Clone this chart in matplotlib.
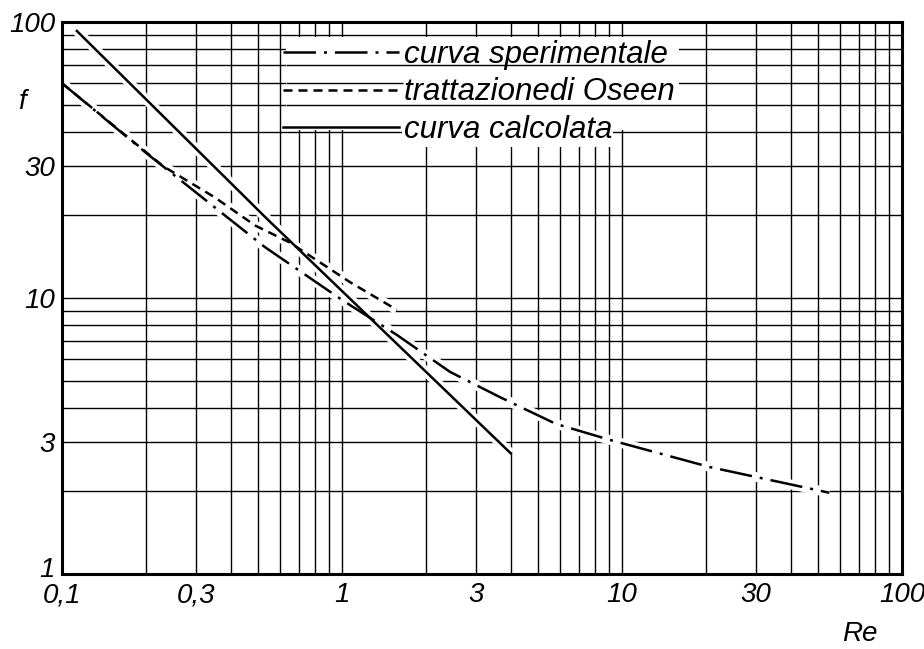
import numpy as np
import matplotlib.pyplot as plt
import matplotlib.transforms as mtransforms
from matplotlib.ticker import LogLocator, NullFormatter
from matplotlib.patches import Rectangle

plt.rcParams['font.family'] = ['Liberation Sans', 'DejaVu Sans']

# curve values (Re, f)
re_sper = [0.1, 0.2, 0.53, 1.0, 1.57, 2.43, 3.67, 5.8, 9.06, 20.6, 55]
f_sper = [60, 33.5, 15.3, 9.84, 7.35, 5.4, 4.37, 3.5, 3.06, 2.44, 1.97]

re_oseen = [0.1, 0.23, 0.35, 0.49, 0.65, 1.07, 1.57]
f_oseen = [60, 30, 23.2, 18.3, 15.9, 11.4, 9.06]

re_calc = [0.113, 0.544, 4.0]
f_calc = [92.8, 19.2, 2.74]

x_ticks = [0.1, 0.3, 1, 3, 10, 30, 100]
x_labels = ["0,1", "0,3", "1", "3", "10", "30", "100"]
y_ticks = [1, 3, 10, 30, 100]
y_labels = ["1", "3", "10", "30", "100"]

labels = ["curva sperimentale", "trattazionedi Oseen", "curva calcolata"]

fig = plt.figure(figsize=(9.24, 6.49), dpi=100)
ax = fig.add_axes([62 / 924, 75 / 649, 840 / 924, 552 / 649])
ax.set_xscale("log")
ax.set_yscale("log")
ax.set_xlim(0.1, 100)
ax.set_ylim(1, 100)

ax.set_xticks(x_ticks, x_labels)
ax.set_yticks(y_ticks, y_labels)
for axis in (ax.xaxis, ax.yaxis):
    axis.set_minor_locator(LogLocator(base=10, subs=np.arange(2, 10)))
    axis.set_minor_formatter(NullFormatter())
ax.tick_params(which="both", length=0, labelsize=20)
ax.tick_params(axis="x", pad=6)
ax.tick_params(axis="y", pad=5)
for lbl in ax.get_xticklabels() + ax.get_yticklabels():
    lbl.set_style("italic")
# the "1" on the f axis sits a little higher, clear of "0,1"
lift = mtransforms.ScaledTranslation(0, 5 / 72, fig.dpi_scale_trans)
ylab1 = ax.get_yticklabels()[0]
ylab1.set_transform(ylab1.get_transform() + lift)

ax.grid(True, which="both", color="black", lw=1.0)
ax.set_axisbelow(True)
for sp in ax.spines.values():
    sp.set_linewidth(2.2)

# blank out the grid behind the legend, keep some horizontal rules
ax.add_patch(Rectangle((0.63, 40.6), 16 - 0.63, 88 - 40.6,
                       facecolor="white", edgecolor="none", zorder=1))
ax.hlines([70, 50], 0.63, 16, color="black", lw=1.0, zorder=1.2)
ax.hlines(60, 0.63, 1.65, color="black", lw=1.0, zorder=1.2)

# white halo under the curves breaks the grid like the drawing
for xs, ys in [(re_sper, f_sper), (re_oseen, f_oseen), (re_calc, f_calc)]:
    ax.plot(xs, ys, color="white", lw=7, solid_capstyle="butt", zorder=2)

l1, = ax.plot(re_sper, f_sper, color="black", lw=1.8,
              linestyle=(0, (13, 3.2, 1.2, 3.2)), zorder=3)
l2, = ax.plot(re_oseen, f_oseen, color="black", lw=1.8,
              linestyle=(0, (3.6, 2.4)), zorder=3)
l3, = ax.plot(re_calc, f_calc, color="black", lw=1.8, zorder=3)

leg = ax.legend([l1, l2, l3], labels, loc="upper left",
                bbox_to_anchor=(0.263, 0.968), frameon=False,
                prop={"style": "italic", "size": 22.5},
                handlelength=3.7, handletextpad=0.16, labelspacing=0.25,
                borderpad=0, borderaxespad=0)
leg.set_zorder(5)
# the 40 rule is broken under the last legend label
leg.get_texts()[2].set_bbox(dict(facecolor="white", edgecolor="none", pad=1))

ax.set_ylabel("f", rotation=0, fontsize=20, style="italic", va="center")
ax.yaxis.set_label_coords(-0.048, 0.855)
ax.set_xlabel("Re", fontsize=20, style="italic")
ax.xaxis.set_label_coords(0.95, -0.085)

plt.savefig("out.png", dpi=100)
